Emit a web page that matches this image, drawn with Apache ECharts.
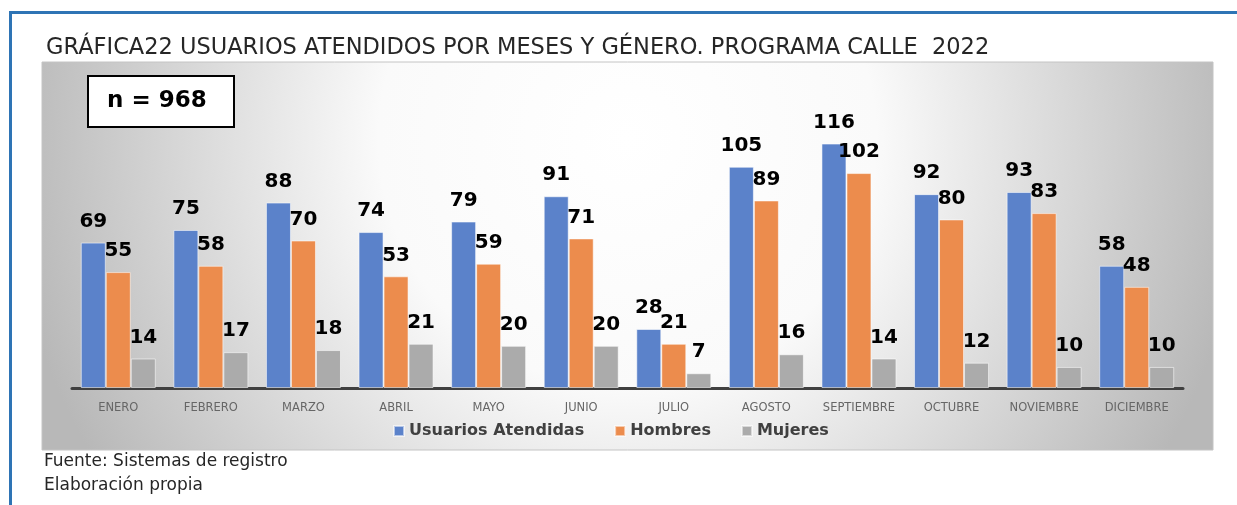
<!DOCTYPE html>
<html>
<head>
<meta charset="utf-8" />
<title>Grafica 22</title>
<script src="https://cdn.jsdelivr.net/npm/echarts@6/dist/echarts.min.js"></script>
<style>
	html, body { margin: 0; padding: 0; background: #fff; }
	#main { width: 1237px; height: 505px; }
</style>
</head>
<body>
<div id="main"></div>
<script type="text/javascript">
	// datos del programa calle 2022
	var meses = ['ENERO', 'FEBRERO', 'MARZO', 'ABRIL', 'MAYO', 'JUNIO', 'JULIO', 'AGOSTO', 'SEPTIEMBRE', 'OCTUBRE', 'NOVIEMBRE', 'DICIEMBRE'];
	var usuarios = [69, 75, 88, 74, 79, 91, 28, 105, 116, 92, 93, 58];
	var hombres = [55, 58, 70, 53, 59, 71, 21, 89, 102, 80, 83, 48];
	var mujeres = [14, 17, 18, 21, 20, 20, 7, 16, 14, 12, 10, 10];

	var fuente = 'DejaVu Sans';

	function serie(nombre, datos, color) {
		return {
			name: nombre,
			type: 'bar',
			data: datos,
			barWidth: 25,
			barGap: '0%',
			itemStyle: {
				color: color,
				borderColor: 'rgba(255,255,255,0.55)',
				borderWidth: 1
			},
			label: {
				show: true,
				position: 'top',
				distance: 11,
				color: '#000',
				fontFamily: fuente,
				fontWeight: 'bold',
				fontSize: 20
			}
		};
	}

	var chart = echarts.init(document.getElementById('main'));
	chart.setOption({
		backgroundColor: '#fff',
		animation: false,
		title: {
			text: 'GRÁFICA22 USUARIOS ATENDIDOS POR MESES Y GÉNERO. PROGRAMA CALLE  2022',
			left: 41,
			top: 32,
			textStyle: {
				fontFamily: fuente,
				fontWeight: 'normal',
				fontSize: 22.5,
				color: '#262626'
			}
		},
		graphic: [
			// marco azul
			{ type: 'rect', z: -20, shape: { x: 9, y: 11, width: 1228, height: 3 }, style: { fill: '#2E74B5' } },
			{ type: 'rect', z: -20, shape: { x: 9, y: 11, width: 3, height: 494 }, style: { fill: '#2E74B5' } },
			// fondo degradado
			{
				type: 'rect', z: -10,
				shape: { x: 42, y: 62, width: 1171, height: 388 },
				style: {
					fill: {
						type: 'radial', x: 0.5, y: 0.2, r: 1.6,
						colorStops: [
							{ offset: 0, color: '#ffffff' },
							{ offset: 0.4, color: '#fafafa' },
							{ offset: 1, color: '#b8b8b8' }
						]
					},
					stroke: '#c4c4c4',
					lineWidth: 1
				}
			},
			// caja n
			{ type: 'rect', z: 5, shape: { x: 88, y: 76, width: 146, height: 51 }, style: { fill: '#fff', stroke: '#000', lineWidth: 2 } },
			{ type: 'text', z: 6, x: 107, y: 101, style: { text: 'n = 968', fill: '#000', font: 'bold 23px "DejaVu Sans"', textVerticalAlign: 'middle' } },
			// pie
			{ type: 'text', x: 44, y: 462, style: { text: 'Fuente: Sistemas de registro', fill: '#262626', font: '17px "DejaVu Sans"', textVerticalAlign: 'middle' } },
			{ type: 'text', x: 44, y: 486, style: { text: 'Elaboración propia', fill: '#262626', font: '17px "DejaVu Sans"', textVerticalAlign: 'middle' } }
		],
		legend: {
			left: 388,
			top: 418,
			icon: 'rect',
			itemWidth: 10,
			itemHeight: 10,
			itemGap: 30,
			textStyle: {
				fontFamily: fuente,
				fontWeight: 'bold',
				fontSize: 16,
				color: '#404040'
			},
			data: ['Usuarios Atendidas', 'Hombres', 'Mujeres']
		},
		grid: {
			left: 72,
			right: 54,
			top: 93,
			bottom: 117
		},
		xAxis: {
			type: 'category',
			data: meses,
			axisTick: { show: false },
			axisLine: { lineStyle: { color: '#404040', width: 3 } },
			axisLabel: {
				interval: 0,
				color: '#666666',
				fontFamily: fuente,
				fontSize: 11.5,
				margin: 14
			}
		},
		yAxis: {
			type: 'value',
			min: 0,
			max: 140,
			show: false
		},
		series: [
			serie('Usuarios Atendidas', usuarios, '#5B82CA'),
			serie('Hombres', hombres, '#EC8C4D'),
			serie('Mujeres', mujeres, '#ABABAB')
		]
	});
</script>
</body>
</html>
